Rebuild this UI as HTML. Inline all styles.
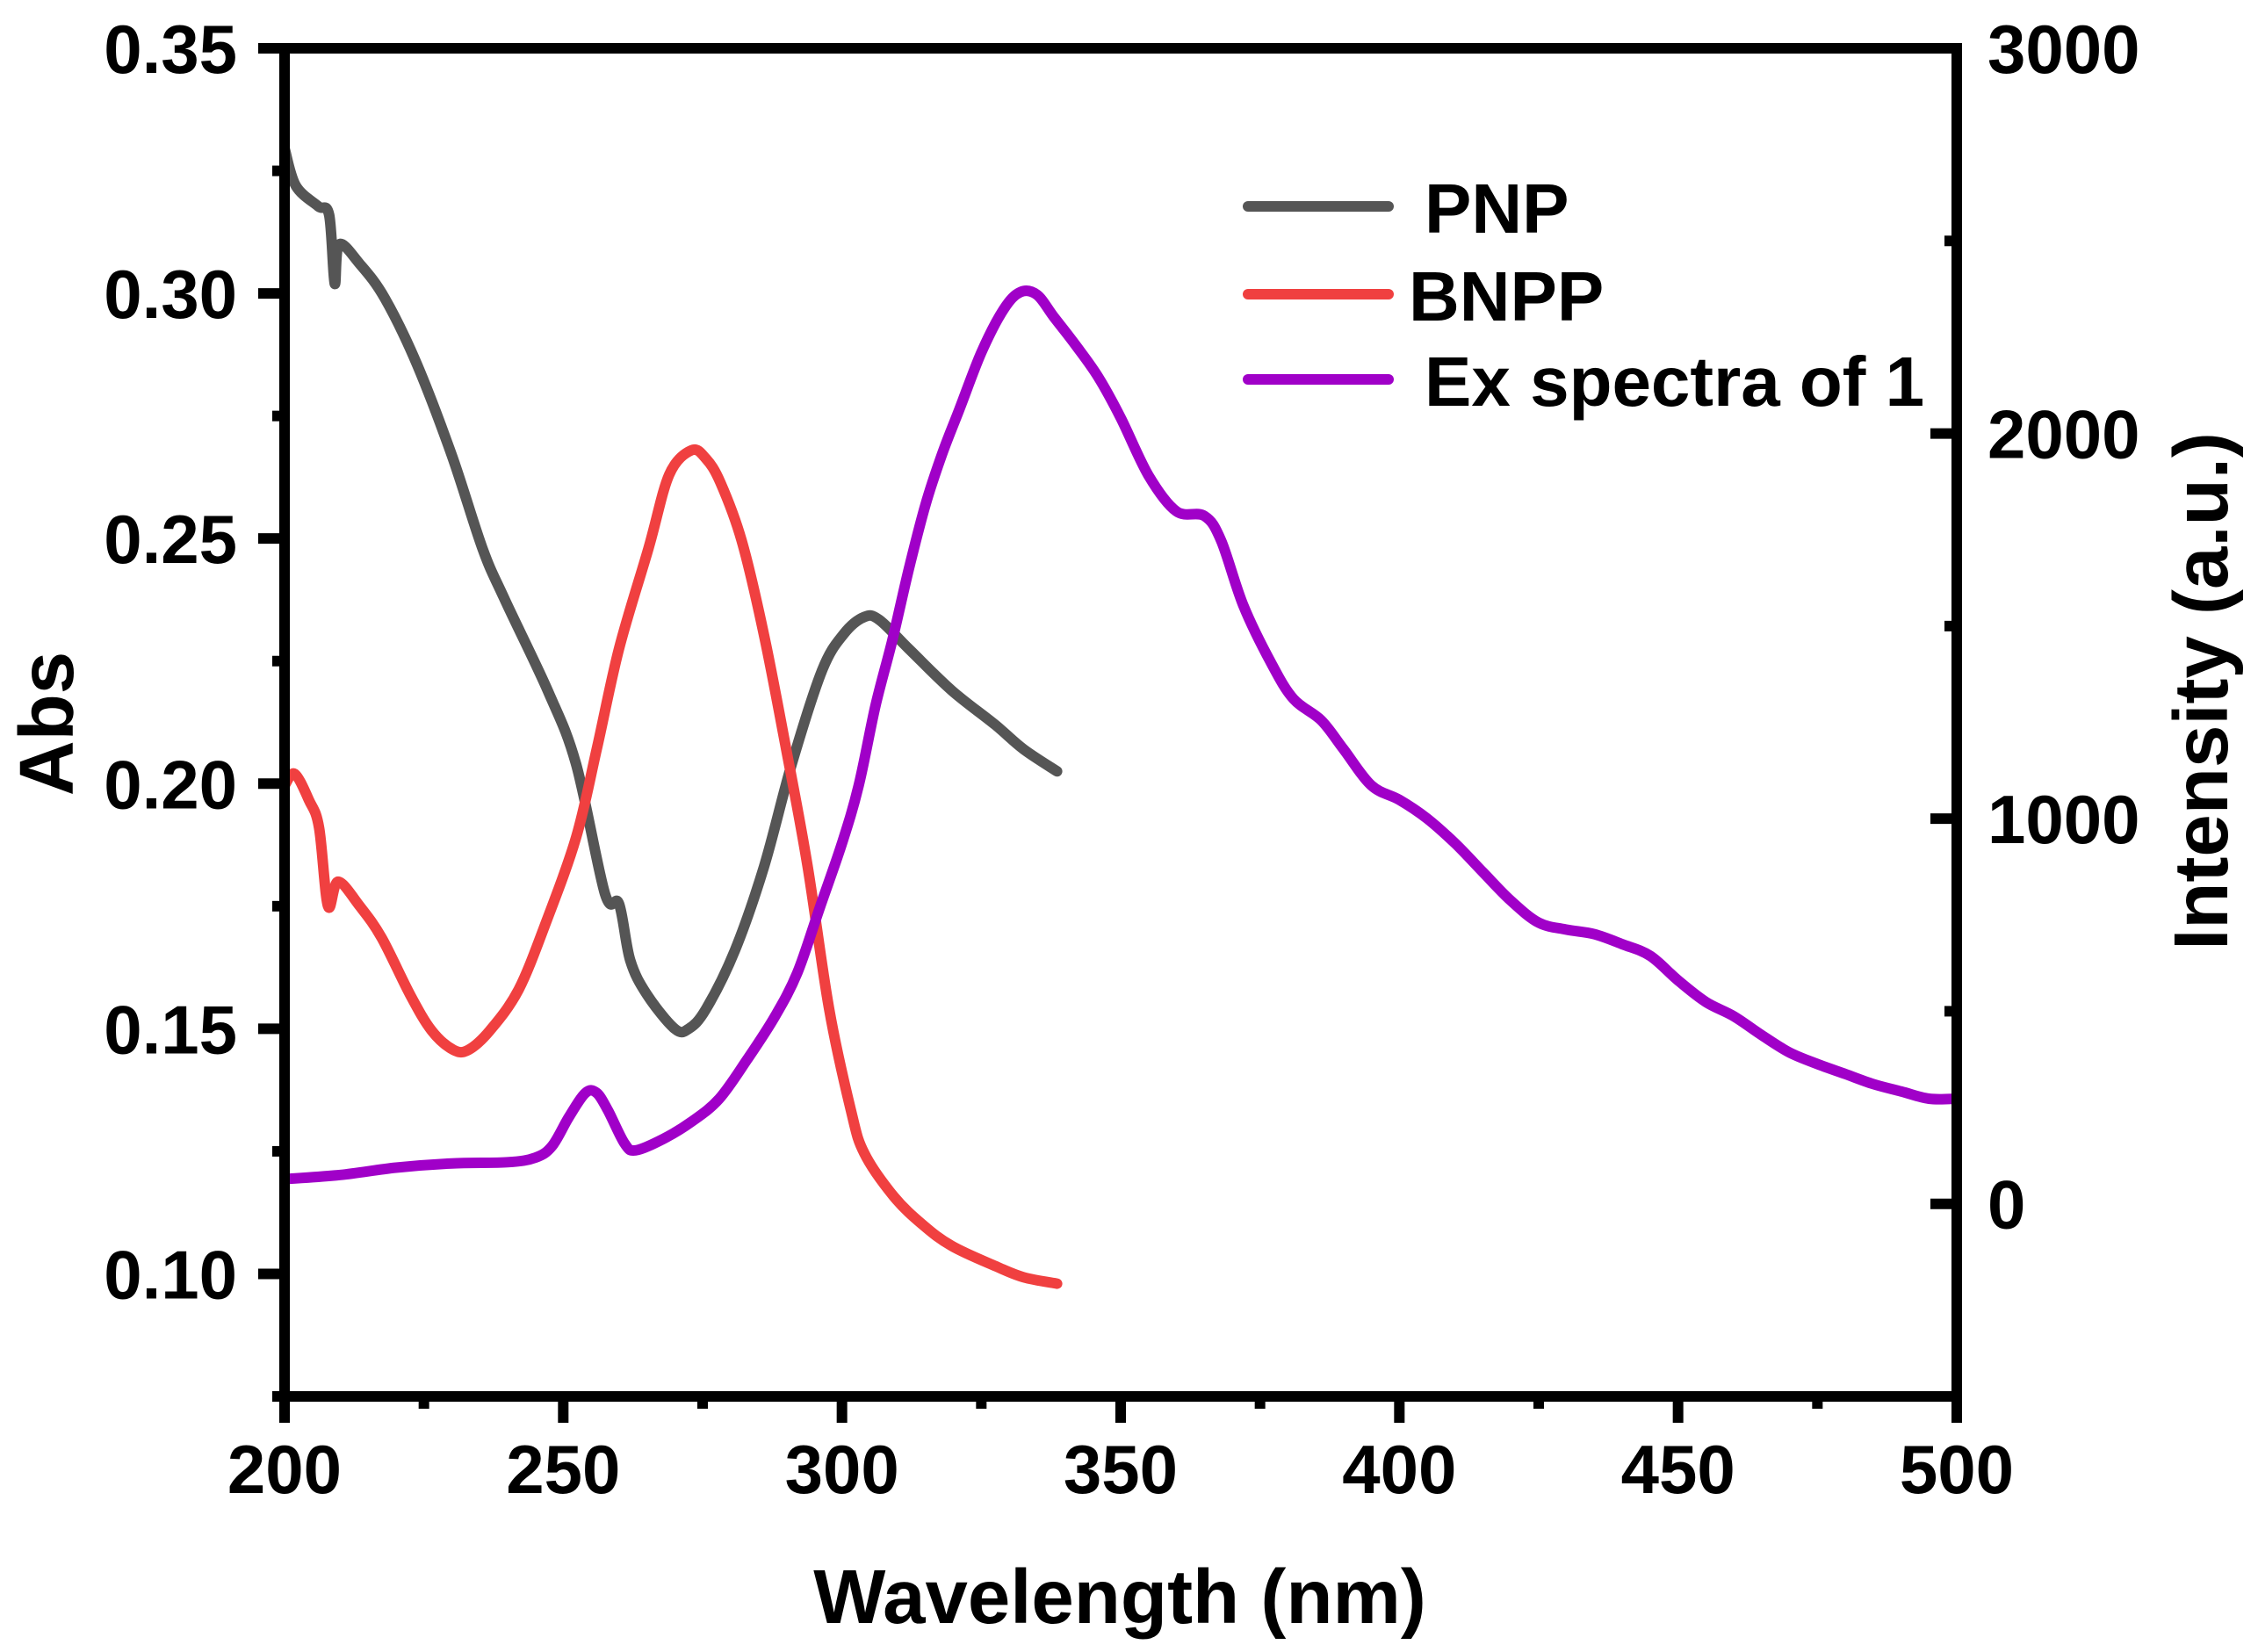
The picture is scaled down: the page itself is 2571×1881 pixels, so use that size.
<!DOCTYPE html>
<html><head><meta charset="utf-8"><style>
html,body{margin:0;padding:0;background:#fff;}
svg{display:block;}
text{font-family:"Liberation Sans",Arial,sans-serif;font-weight:bold;fill:#000;}
</style></head><body>
<svg id="chart" width="2571" height="1881" viewBox="0 0 2571 1881" xmlns="http://www.w3.org/2000/svg">
<g id="series"></g>
<g id="axes"></g>
<g id="legend"></g>
</svg>
<script>
const pnpX=[200,202,206,208,209,209.8,213.5,218,223.8,230,235.5,239.4,247.2,252.3,257.5,260,262,265,270,272.5,275.6,280.8,286,291,296.4,300.3,304,306.7,312,319.7,327.5,332.6,338.6];
const pnpY=[0.3296,0.322,0.3178,0.316,0.302,0.310,0.306,0.299,0.2854,0.267,0.248,0.2378,0.219,0.204,0.1775,0.1755,0.164,0.157,0.150,0.150,0.154,0.166,0.183,0.204,0.223,0.2305,0.234,0.2334,0.2275,0.219,0.212,0.207,0.2025];
const bnppX=[200,201.8,204.4,206.2,207.8,209.6,213.5,217.4,222.5,226.4,230.3,233,236.8,242,247,252.3,256,260,265.3,269,273,275.6,278.2,282,286,290,293.8,297.7,301.6,304,309.3,314.5,319.7,327.5,332.6,338.6];
const bnppY=[0.1996,0.202,0.1966,0.191,0.175,0.180,0.175,0.1686,0.157,0.1496,0.1457,0.1457,0.1496,0.158,0.172,0.189,0.207,0.2275,0.248,0.263,0.268,0.2663,0.2614,0.2496,0.2304,0.207,0.1834,0.154,0.1334,0.1246,0.1158,0.110,0.1057,0.1016,0.0993,0.098];
const exX=[200,210,220,230,240,245,248,251,254,256,258,261,263,268,273,278,283,288,292,296,300,303,306,309,312,315,318,321,325,329,332,335,338,342,346,350,355,360,365,368,372,377,381,386,390,395,400,405,410,415,420,425,430,435,440,445,450,455,460,465,470,475,480,485,490,495,500];
const exY=[64,75,94,105,108,120,150,225,288,288,243,157,139,169,213,273,375,487,600,768,936,1086,1292,1461,1648,1816,1948,2060,2210,2322,2367,2360,2303,2228,2146,2041,1891,1798,1786,1723,1554,1404,1311,1255,1180,1086,1049,1000,936,861,787,730,712,700,674,644,580,524,487,438,393,363,337,311,292,273,273];
const xTicks=[200,250,300,350,400,450,500];
const yLeftTicks=[0.10,0.15,0.20,0.25,0.30,0.35];
const yLeftLabels=["0.10","0.15","0.20","0.25","0.30","0.35"];
const yRightTicks=[0,1000,2000,3000];
const yRightLabels=["0","1000","2000","3000"];

const X0=324,X1=2228,Y0=55,Y1=1590;
const xs=v=>X0+(v-200)/300*(X1-X0);
const yl=v=>Y1-(v-0.075)/(0.35-0.075)*(Y1-Y0);
const yr=v=>Y1-(v+500)/3500*(Y1-Y0);
const NS="http://www.w3.org/2000/svg";
function mk(tag,attrs,parent){const e=document.createElementNS(NS,tag);for(const k in attrs)e.setAttribute(k,attrs[k]);parent.appendChild(e);return e;}
const S=document.getElementById('series'),A=document.getElementById('axes'),L=document.getElementById('legend');
function smoothPath(P){
  let d='M'+P[0][0].toFixed(1)+' '+P[0][1].toFixed(1);
  for(let i=0;i<P.length-1;i++){
    const p0=P[Math.max(0,i-1)],p1=P[i],p2=P[i+1],p3=P[Math.min(P.length-1,i+2)];
    const k=1/6;
    const c1=[p1[0]+(p2[0]-p0[0])*k,p1[1]+(p2[1]-p0[1])*k];
    const c2=[p2[0]-(p3[0]-p1[0])*k,p2[1]-(p3[1]-p1[1])*k];
    d+=' C'+c1[0].toFixed(1)+' '+c1[1].toFixed(1)+' '+c2[0].toFixed(1)+' '+c2[1].toFixed(1)+' '+p2[0].toFixed(1)+' '+p2[1].toFixed(1);
  }
  return d;
}
function line(xa,ya,fy,color,name){
  const P=xa.map((x,i)=>[xs(x),fy(ya[i])]);
  const p=mk('path',{d:smoothPath(P),fill:'none',stroke:color,'stroke-width':12,'stroke-linejoin':'round','stroke-linecap':'round'},S);
  
  
}
line(pnpX,pnpY,yl,'#555555','pnp-line');
line(bnppX,bnppY,yl,'#f04040','bnpp-line');
line(exX,exY,yr,'#a000c8','ex-spectra-line');

const frame=mk('rect',{x:X0,y:Y0,width:X1-X0,height:Y1-Y0,fill:'none',stroke:'#000','stroke-width':12},A);


for(let v=200;v<=500;v+=25){
  const major=v%50===0;
  const t=mk('line',{x1:xs(v),x2:xs(v),y1:Y1,y2:Y1+(major?30:14),stroke:'#000','stroke-width':12},A);
  
  
}
xTicks.forEach(v=>{
  const t=mk('text',{x:xs(v),y:1700,'font-size':78,'text-anchor':'middle'},A);t.textContent=String(v);
  
  
});
for(let i=0;i<=10;i++){
  const v=0.10+i*0.025;if(v>0.351)break;
  const major=i%2===0;
  const t=mk('line',{x1:X0,x2:X0-(major?30:14),y1:yl(v),y2:yl(v),stroke:'#000','stroke-width':12},A);
  
  
}
const t075=mk('line',{x1:X0,x2:X0-14,y1:yl(0.075),y2:yl(0.075),stroke:'#000','stroke-width':12},A);


yLeftTicks.forEach((v,i)=>{
  const t=mk('text',{x:270,y:yl(v)+28,'font-size':78,'text-anchor':'end'},A);t.textContent=yLeftLabels[i];
  
  
});
for(let v=-500;v<=3000;v+=500){
  const major=v%1000===0;
  const t=mk('line',{x1:X1,x2:X1-(major?30:14),y1:yr(v),y2:yr(v),stroke:'#000','stroke-width':12},A);
  
  
}
yRightTicks.forEach((v,i)=>{
  const t=mk('text',{x:2263,y:yr(v)+28,'font-size':78,'text-anchor':'start'},A);t.textContent=yRightLabels[i];
  
  
});
const xt=mk('text',{x:1275,y:1848,'font-size':87,'text-anchor':'middle'},A);xt.textContent='Wavelength (nm)';


const ylt=mk('text',{x:0,y:0,'font-size':87,'text-anchor':'middle',transform:'translate(83,824) rotate(-90)'},A);ylt.textContent='Abs';


const yrt=mk('text',{x:0,y:0,'font-size':87,'text-anchor':'middle',transform:'translate(2536,787) rotate(-90)'},A);yrt.textContent='Intensity (a.u.)';


const legItems=[['PNP','#555555',235,1622],['BNPP','#f04040',335,1604],['Ex spectra of 1','#a000c8',432,1622]];
legItems.forEach(it=>{
  const g=mk('g',{},L);
  
  
  const l=mk('line',{x1:1421,x2:1581,y1:it[2],y2:it[2],stroke:it[1],'stroke-width':12,'stroke-linecap':'round'},g);
  
  
  const t=mk('text',{x:it[3],y:it[2]+30,'font-size':80},g);t.textContent=it[0];
  
  
});
</script>
</body></html>
